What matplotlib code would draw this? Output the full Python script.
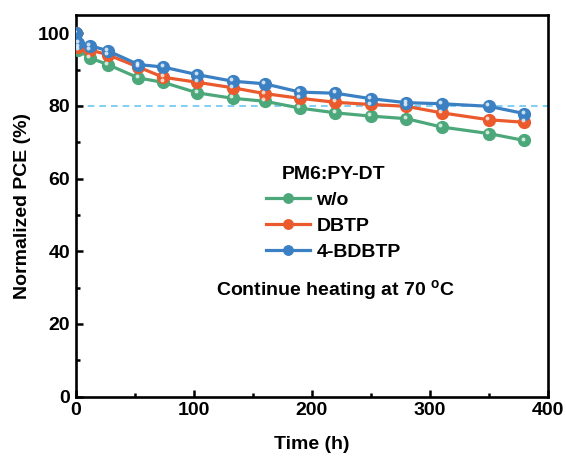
import matplotlib
matplotlib.use("Agg")
import matplotlib.pyplot as plt
import matplotlib.transforms as mtransforms
from matplotlib.ticker import MultipleLocator

plt.rcParams['font.family'] = ['Liberation Sans', 'DejaVu Sans']
plt.rcParams['font.weight'] = 'bold'
plt.rcParams['mathtext.fontset'] = 'custom'
plt.rcParams['mathtext.rm'] = 'Liberation Sans:bold'

# aging data (normalized PCE, %)
time_h = [0, 2, 12, 27, 53, 74, 103, 133, 160, 190, 220, 250, 280, 310, 350, 380]
pce_wo = [100, 95.4, 93.2, 91.4, 87.7, 86.5, 83.6, 82.1, 81.3, 79.4, 78.1, 77.2, 76.5, 74.2, 72.4, 70.5]
pce_dbtp = [100, 96.3, 95.4, 94.1, 90.7, 87.9, 86.5, 85.0, 83.4, 82.1, 81.0, 80.4, 79.9, 78.1, 76.2, 75.5]
pce_bdbtp = [100, 97.3, 96.6, 95.2, 91.4, 90.7, 88.6, 86.8, 86.1, 83.8, 83.5, 82.0, 80.9, 80.6, 79.9, 77.9]

labels = ['w/o', 'DBTP', '4-BDBTP']
colors = ['#4ca87a', '#ea5a2d', '#3a80c3']
series = [pce_wo, pce_dbtp, pce_bdbtp]

fig = plt.figure(figsize=(5.66, 4.57), dpi=100)
ax = fig.add_axes([0.134, 0.132, 0.834, 0.835])

ax.axhline(80, color='#6cc6f2', lw=1.2, ls=(0, (4, 3)), zorder=1)

# small white spot on each ball for the glossy look
shine = mtransforms.offset_copy(ax.transData, fig=fig, x=-1.2, y=1.4, units='points')
for vals, lab, col in zip(series, labels, colors):
    ax.plot(time_h, vals, color=col, lw=2.3, marker='o', ms=8.5,
            mfc=col, mec=col, label=lab, zorder=3)
    ax.plot(time_h, vals, ls='none', marker='o', ms=2.8, mfc='white',
            mec='none', alpha=0.75, transform=shine, zorder=4)

ax.set_xlim(0, 400)
ax.set_ylim(0, 105)
ax.xaxis.set_major_locator(MultipleLocator(100))
ax.xaxis.set_minor_locator(MultipleLocator(50))
ax.yaxis.set_major_locator(MultipleLocator(20))
ax.yaxis.set_minor_locator(MultipleLocator(10))
ax.tick_params(which='both', direction='in', width=1.8, labelsize=14, pad=4)
ax.tick_params(which='major', length=5)
ax.tick_params(which='minor', length=3)
for s in ax.spines.values():
    s.set_linewidth(1.9)

ax.set_xlabel('Time (h)', fontsize=14, fontweight='bold', labelpad=12)
ax.set_ylabel('Normalized PCE (%)', fontsize=14, fontweight='bold', labelpad=5)

leg = ax.legend(title='PM6:PY-DT', loc='center', bbox_to_anchor=(0.545, 0.48),
                frameon=False, fontsize=14, title_fontsize=14, handlelength=2.3,
                handletextpad=0.3, labelspacing=0.42, markerscale=0.8)
leg.get_title().set_fontweight('bold')

ax.text(0.55, 0.277, r'Continue heating at 70 $^{\rm o}$C', transform=ax.transAxes,
        ha='center', va='center', fontsize=14, fontweight='bold')

fig.savefig('out.png', dpi=100)
